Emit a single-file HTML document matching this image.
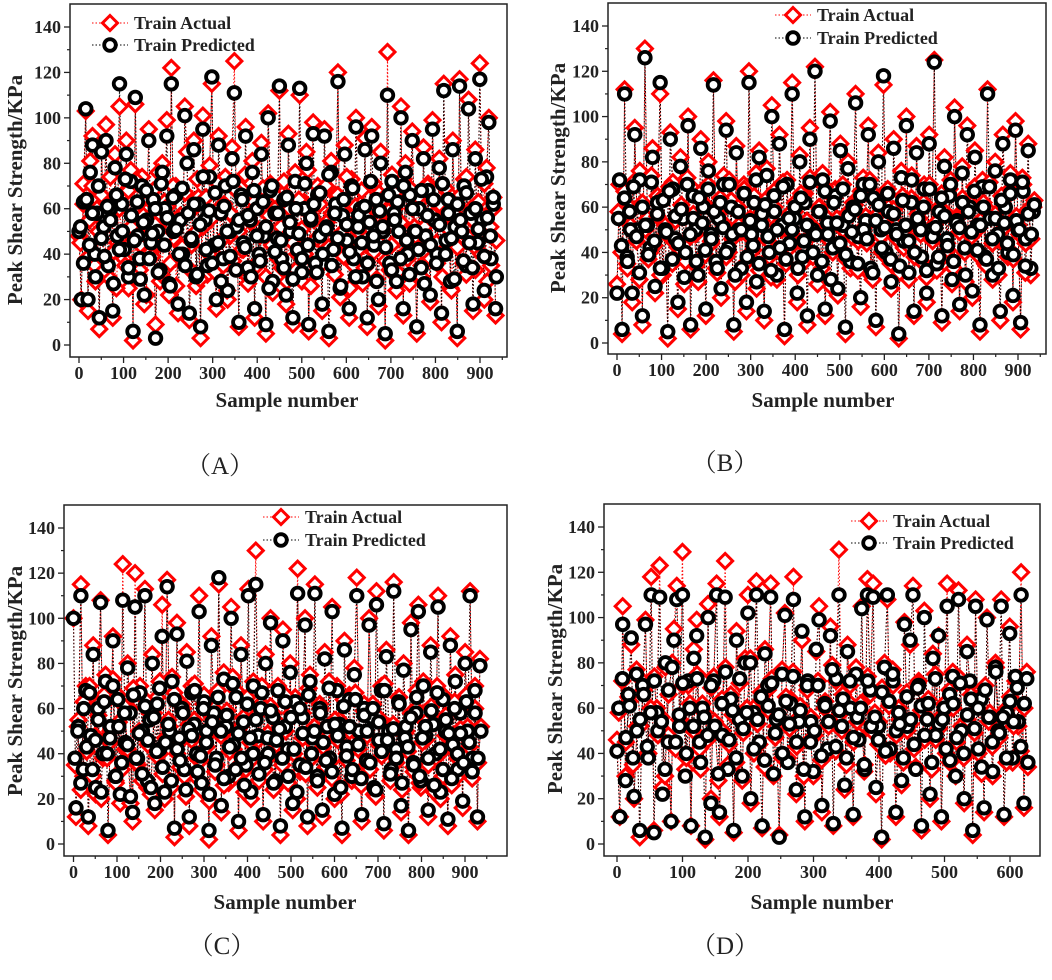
<!DOCTYPE html>
<html><head><meta charset="utf-8"><style>
body{margin:0;background:#fff;width:1052px;height:980px;overflow:hidden}
svg{display:block}
text{font-family:"Liberation Serif","Noto Serif CJK SC",serif}
</style></head><body>
<svg id="chart" width="1052" height="980" viewBox="0 0 1052 980" xmlns="http://www.w3.org/2000/svg"></svg>
<script>
const NS="http://www.w3.org/2000/svg";
const svg=document.getElementById('chart');
// ---- data ----
const sampleCountA=940, sampleCountB=940, sampleCountC=940, sampleCountD=630;
const xTicksLong=[0,100,200,300,400,500,600,700,800,900];
const xTicksShort=[0,100,200,300,400,500,600];
const yTicks=[0,20,40,60,80,100,120,140];
const actualA=[48,20,71,103,15,81,92,35,60,7,88,55,97,30,62,12,84,45,105,66,38,90,25,77,2,106,50,33,74,18,59,95,41,68,9,52,28,80,63,99,22,122,47,70,14,57,36,105,85,11,44,90,26,65,3,101,53,31,79,115,40,16,92,61,35,74,20,48,87,125,55,8,69,42,96,30,58,81,12,64,37,89,50,5,102,71,23,60,45,112,34,67,18,93,52,9,76,40,110,28,63,85,6,57,98,32,70,46,15,95,54,3,81,39,66,120,21,59,88,44,12,73,35,100,50,62,27,91,8,56,96,41,68,17,85,53,2,129,33,75,60,24,47,105,13,80,38,69,94,52,5,63,30,87,46,71,19,99,58,36,82,10,115,44,67,25,90,55,3,117,48,73,31,108,60,15,86,42,124,57,20,78,100,35,65,13];
const actualA2=[45,62,38,55,70,28,50,66,33,58,74,41,25,60,48,35,68,52,30,72,44,57,22,64,39,53,76,31,47,61,36,70,26,55,43,67,34,59,49,73,29,52,65,40,56,32,71,46,62,24,58,37,68,50,42,75,27,54,63,35,48,69,30,57,44,66,38,52,72,28,60,45,33,64,51,40,77,26,55,47,62,36,70,43,58,31,66,49,39,74,25,53,61,42,68,34,56,46,71,29,63,50,37,59,44,67,32,54,73,41,27,60,48,65,35,52,70,38,57,45,62,30,69,51,24,58,43,66,36,74,47,55,33,63,40,71,28,52,60,46];
const predA=[50,20,63,104,20,76,88,40,58,12,85,52,90,35,60,15,78,48,115,62,42,84,30,72,6,109,48,38,70,22,55,90,45,64,3,50,33,76,60,92,27,115,50,66,18,55,40,101,80,14,46,86,30,62,8,95,55,35,74,118,44,20,88,58,38,70,24,50,82,111,52,10,66,45,92,34,55,76,16,60,40,84,48,9,100,68,28,58,47,114,38,64,22,88,50,12,72,42,113,32,60,80,9,55,93,36,66,48,18,92,52,6,76,42,62,116,25,57,84,46,16,70,38,96,52,60,30,86,12,54,92,44,64,20,80,50,5,110,36,72,58,28,50,100,16,76,40,66,90,50,8,60,34,82,48,68,22,95,55,40,78,14,112,46,64,28,86,52,6,114,50,70,35,104,58,18,82,45,117,55,24,74,98,38,62,16];
const predA2=[52,36,64,44,58,30,70,47,39,61,55,27,66,42,50,73,34,57,46,63,29,54,68,38,49,60,32,71,44,56,26,65,51,40,69,35,58,47,62,31,53,74,42,59,36,67,45,28,61,50,39,72,33,55,64,43,57,30,68,48,37,63,52,25,70,41,58,46,34,65,54,29,60,49,38,71,44,56,62,32,67,40,51,75,35,58,47,26,64,53,41,69,30,57,45,61,36,72,48,28,59,52,43,66,33,55,63,38,70,46,31,60,50,42,68,27,57,44,64,36,53,71,40,58,47,29,62,55,37,67,45,34,60,51,73,39,56,48,65,30];
const actualB=[26,70,4,112,35,60,18,95,48,76,8,130,55,40,86,22,65,110,30,52,2,93,71,44,15,82,58,36,100,6,68,48,27,90,62,12,80,45,116,33,57,20,74,98,40,63,5,87,52,30,70,14,120,46,65,24,85,54,10,77,38,105,60,28,92,50,3,72,42,115,58,18,83,35,66,8,95,48,122,26,60,75,12,55,102,40,68,21,88,50,4,80,33,62,110,45,16,73,56,96,30,66,7,84,47,114,38,60,24,90,52,2,76,42,100,28,64,12,87,55,36,70,18,92,48,125,32,60,9,82,44,68,26,104,56,14,78,40,96,62,20,85,50,5,72,35,112,58,28,80,46,10,92,64,38,75,18,98,52,6,70,44,88,30,60];
const actualB2=[58,40,67,33,52,71,45,28,62,50,37,74,43,56,30,65,48,69,35,54,42,61,26,73,47,57,34,66,51,39,70,44,59,31,64,53,38,72,46,27,60,49,68,36,55,41,75,32,58,63,45,29,67,52,40,71,35,57,48,62,30,66,43,54,73,38,50,60,33,69,46,25,64,55,42,70,37,58,47,61,32,67,51,44,72,28,56,63,40,53,68,35,59,46,31,65,50,43,74,38,57,48,62,29,70,45,53,36,66,58,41,72,33,55,49,64,27,60,47,69,39,54,62,34,71,44,57,30,65,51,42,68,37,56,48,73,31,59,46,63];
const predB=[22,72,6,110,38,58,22,92,50,72,12,126,52,42,82,25,62,115,33,50,5,90,68,46,18,78,55,40,96,8,65,50,30,86,60,15,76,48,114,36,55,24,70,94,42,60,8,84,50,33,66,18,115,48,62,27,82,52,14,74,40,100,58,30,88,52,6,70,44,110,55,22,80,38,62,12,90,50,120,30,58,72,15,53,98,42,65,24,85,52,7,77,36,60,106,47,20,70,54,92,33,64,10,80,50,118,40,58,27,86,50,4,73,45,96,31,62,14,84,52,38,68,22,88,50,124,35,58,12,78,46,65,28,100,54,17,75,42,92,60,23,82,52,8,69,38,110,55,30,76,48,14,88,60,40,72,21,94,50,9,67,46,85,33,58];
const predB2=[55,43,64,36,50,69,47,31,60,52,39,71,45,57,33,63,49,67,37,56,44,59,29,70,48,55,36,64,53,41,68,46,58,33,62,51,40,70,48,30,58,50,66,38,54,43,72,35,57,61,47,32,65,50,42,69,37,55,50,60,33,64,45,52,71,40,48,58,36,67,48,28,62,53,44,68,39,56,49,59,35,65,50,46,70,31,54,61,42,51,66,37,57,48,34,63,52,45,72,40,55,50,60,32,68,47,51,38,64,56,43,70,36,53,51,62,30,58,49,67,41,52,60,37,69,46,55,33,63,53,44,66,39,54,50,71,34,57,48,61];
const actualC=[100,12,55,115,30,70,8,45,88,22,62,108,38,75,4,50,92,28,66,18,124,42,80,60,10,120,35,70,48,113,25,58,84,15,65,40,106,20,117,52,74,3,98,45,62,30,85,8,70,55,38,110,24,66,48,2,92,60,35,115,14,76,50,27,105,42,68,6,88,56,33,113,20,72,130,46,62,10,84,38,100,58,25,70,4,95,50,40,80,15,65,122,32,58,100,8,75,45,115,28,62,12,85,50,36,105,20,70,55,4,90,40,66,28,78,118,48,10,62,35,100,58,22,112,44,70,6,86,52,30,116,40,65,14,80,50,4,98,34,60,106,25,72,46,12,88,55,38,110,20,66,48,8,92,42,75,30,60,16,85,52,112,36,70,10,82];
const actualC2=[35,52,24,63,41,70,30,48,57,20,66,38,45,73,27,54,33,61,42,18,69,36,50,28,64,44,22,58,39,72,31,47,55,25,67,40,34,60,21,53,46,71,29,37,62,43,19,56,32,68,48,26,59,41,74,30,51,36,23,65,45,38,57,28,70,33,49,61,24,44,53,35,66,27,58,40,20,63,47,31,69,38,52,25,60,43,34,72,29,55,46,22,64,37,50,30,67,42,26,59,48,33,62,21,56,39,71,44,28,53,36,65,24,49,41,58,32,68,27,45,54,35,61,23,70,40,30,57,47,26,63,38,51,33,66,43,29,60,36,52];
const predC=[100,16,52,110,33,68,12,48,84,25,60,107,40,72,6,52,90,30,64,22,108,45,78,58,14,105,38,67,50,110,28,55,80,18,62,42,92,23,114,50,72,7,93,47,60,33,81,12,67,53,40,103,27,63,50,6,88,58,38,118,17,73,52,30,100,44,65,10,84,54,35,110,23,70,115,48,60,13,80,40,98,56,28,68,8,90,52,42,76,18,63,111,35,56,97,12,72,47,111,30,60,15,82,52,38,103,22,68,53,7,86,43,64,30,75,110,50,13,60,37,97,56,25,106,46,68,9,83,50,33,112,42,63,17,77,52,6,95,36,58,103,28,70,48,15,85,53,40,105,23,64,50,11,88,44,72,33,58,19,80,50,110,38,68,12,79];
const predC2=[38,50,27,60,43,67,33,46,55,23,63,40,47,70,30,52,36,58,44,21,66,38,49,31,61,46,25,56,41,69,34,45,53,28,64,42,37,58,24,51,48,68,32,39,60,45,22,54,35,65,50,29,57,43,71,33,49,38,26,62,47,40,55,31,67,36,47,59,27,46,51,38,63,30,56,42,23,60,49,34,66,40,50,28,58,45,37,69,32,53,48,25,61,39,52,33,64,44,29,57,50,36,60,24,54,41,68,46,31,51,38,62,27,47,43,56,35,65,30,47,52,38,59,26,67,42,33,55,49,29,60,40,49,36,63,45,32,58,38,50];
const actualD=[46,12,105,30,65,88,20,52,3,72,99,40,118,6,60,123,25,78,48,10,95,114,55,129,33,70,8,86,99,42,62,2,106,20,74,115,12,50,125,35,66,5,94,57,28,82,110,18,60,116,44,7,86,68,115,30,52,4,77,102,38,64,118,22,56,90,10,70,46,30,85,105,14,60,40,96,8,72,130,50,24,88,62,12,78,48,105,35,117,66,115,22,54,2,80,108,40,70,12,60,26,98,50,88,114,34,72,6,103,56,20,84,46,92,10,62,115,36,76,30,112,52,18,88,70,4,108,40,66,14,100,58,30,80,48,108,12,60,96,36,72,52,120,16,76];
const actualD2=[58,72,45,63,35,77,52,68,40,60,74,48,56,30,66,80,42,55,70,38,62,50,75,33,58,46,69,54,28,64,78,44,57,36,71,49,60,82,40,53,67,34,59,73,47,55,38,65,51,76,43,61,30,68,56,48,72,37,63,52,79,41,57,66,35,70,45,54,62,32,74,50,58,44,69,39,61,77,48,55,36,67,53,42,71,59,46,64,33,75,51,57,40,68,60,45,73,38,55,66,49,62,31,70,54,43,78,47,58,36,65,52,71,41,60,34];
const predD=[41,12,97,28,66,91,21,50,6,70,97,38,110,5,58,109,22,80,45,10,90,108,52,110,30,72,8,82,92,45,60,3,100,18,72,110,14,48,109,33,64,6,90,55,30,80,102,20,58,110,45,8,84,70,109,31,55,3,75,101,36,62,108,24,54,94,12,72,45,32,86,99,17,62,42,92,9,73,110,52,26,85,60,13,75,46,104,33,110,68,109,25,52,3,78,110,42,72,14,58,28,97,52,90,110,33,70,8,100,55,22,82,48,92,12,60,105,37,74,30,108,50,20,85,72,6,105,42,64,16,99,56,32,78,50,105,13,58,93,38,74,54,110,18,73];
const predD2=[60,73,47,61,38,75,55,66,43,58,72,50,54,33,68,78,45,57,71,40,60,52,73,36,56,48,70,52,31,62,76,46,59,38,73,51,58,80,42,55,65,37,61,71,49,57,40,63,53,74,45,59,33,70,54,50,70,39,61,54,77,43,59,64,38,72,47,56,60,35,72,52,56,46,67,41,63,75,50,53,38,65,55,44,69,61,48,62,36,73,53,55,42,66,62,47,71,40,57,64,51,60,34,68,56,45,76,49,56,38,63,54,69,43,62,36];

function el(tag,attrs,parent){const e=document.createElementNS(NS,tag);for(const k in attrs)e.setAttribute(k,attrs[k]);(parent||svg).appendChild(e);return e;}

const panels=[
 {id:'a',cap:'（A）',capX:220,capY:474,fr:{l:70,r:507,t:4,b:357},xa:[0,79,900,480],ya:[0,345,140,27],xt:xTicksLong,act:[actualA,actualA2],pred:[predA,predA2],n:sampleCountA,yt:[15,190],xtl:[287,411],leg:[110,23,45]},
 {id:'b',cap:'（B）',capX:725,capY:471,fr:{l:608,r:1046,t:3,b:354},xa:[0,617,900,1018],ya:[0,343,140,26],xt:xTicksLong,act:[actualB,actualB2],pred:[predB,predB2],n:sampleCountB,yt:[558,178],xtl:[823,411],leg:[793,15,38]},
 {id:'c',cap:'（C）',capX:222,capY:954,fr:{l:64,r:507,t:505,b:856},xa:[0,73.5,900,465],ya:[0,844,140,528],xt:xTicksLong,act:[actualC,actualC2],pred:[predC,predC2],n:sampleCountC,yt:[15,681],xtl:[285,913],leg:[281,517,540]},
 {id:'d',cap:'（D）',capX:725,capY:954,fr:{l:604,r:1040,t:504,b:856},xa:[0,617,600,1010],ya:[0,844,140,527],xt:xTicksShort,act:[actualD,actualD2],pred:[predD,predD2],n:sampleCountD,yt:[555,679],xtl:[822,913],leg:[869,521,543]}
];

function diamond(g,x,y,name){const s=7.5;const p=el('polygon',{points:`${x},${y-s} ${x+s},${y} ${x},${y+s} ${x-s},${y}`,fill:'#fff',stroke:'#f00','stroke-width':3},g);

return p;}
function circle(g,x,y,name){const c=el('circle',{cx:x,cy:y,r:5.8,fill:'#fff',stroke:'#000','stroke-width':3.8},g);

return c;}

panels.forEach(P=>{
 const g=el('g',{});
 
 
 const X=v=>P.xa[1]+(v-P.xa[0])*(P.xa[3]-P.xa[1])/(P.xa[2]-P.xa[0]);
 const Y=v=>P.ya[1]+(v-P.ya[0])*(P.ya[3]-P.ya[1])/(P.ya[2]-P.ya[0]);
 const f=P.fr;
 const clip=el('clipPath',{id:'clip'+P.id},g);el('rect',{x:f.l,y:f.t,width:f.r-f.l,height:f.b-f.t},clip);
 const plot=el('g',{'clip-path':`url(#clip${P.id})`},g);
 const pos=(arr,i,off)=>X((i+off)*P.n/(arr.length));
 P.act.forEach((arr,k)=>{
  const la=el('polyline',{points:arr.map((v,i)=>pos(arr,i,k*0.5)+','+Y(v)).join(' '),fill:'none',stroke:'#f00','stroke-width':1,'stroke-dasharray':'1.5,2'},plot);
  
  
 });
 P.pred.forEach((arr,k)=>{
  const lp=el('polyline',{points:arr.map((v,i)=>pos(arr,i,k*0.5)+','+Y(v)).join(' '),fill:'none',stroke:'#000','stroke-width':1,'stroke-dasharray':'1.5,2'},plot);
  
  
 });
 P.act.forEach((arr,k)=>arr.forEach((v,i)=>diamond(plot,pos(arr,i,k*0.5),Y(v),'actual-point')));
 P.pred.forEach((arr,k)=>arr.forEach((v,i)=>circle(plot,pos(arr,i,k*0.5),Y(v),'predicted-point')));
 const fr=el('rect',{x:f.l,y:f.t,width:f.r-f.l,height:f.b-f.t,fill:'none',stroke:'#222','stroke-width':1.5},g);
 
 
 yTicks.forEach((t,k)=>{const y=Y(t);el('line',{x1:f.l-6,x2:f.l,y1:y,y2:y,stroke:'#222','stroke-width':1.3},g);
  const tx=el('text',{x:f.l-9,y:y+6,'text-anchor':'end','font-size':18,'font-weight':'bold',fill:'#222'},g);tx.textContent=t;
  
  
  if(k<yTicks.length-1){const m=Y(t+10);el('line',{x1:f.l-3,x2:f.l,y1:m,y2:m,stroke:'#222','stroke-width':1.2},g);}
 });
 P.xt.forEach(t=>{const x=X(t);el('line',{x1:x,x2:x,y1:f.b,y2:f.b+6,stroke:'#222','stroke-width':1.3},g);
  const m=X(t+50);if(m<f.r)el('line',{x1:m,x2:m,y1:f.b,y2:f.b+3,stroke:'#222','stroke-width':1.2},g);
  const tx=el('text',{x:x,y:f.b+22,'text-anchor':'middle','font-size':18,'font-weight':'bold',fill:'#222'},g);tx.textContent=t;
  
  
 });
 const yt=el('text',{x:P.yt[0],y:P.yt[1],transform:`rotate(-90 ${P.yt[0]} ${P.yt[1]})`,'text-anchor':'middle','dominant-baseline':'central','font-size':21,'font-weight':'bold',fill:'#222'},g);
 yt.textContent='Peak Shear Strength/KPa';
 
 
 const xt=el('text',{x:P.xtl[0],y:P.xtl[1]-4,'text-anchor':'middle','font-size':21,'font-weight':'bold',fill:'#222'},g);
 xt.textContent='Sample number';
 
 
 const cap=el('text',{x:P.capX,y:P.capY,'text-anchor':'middle','font-size':25,fill:'#222'},g);
 cap.textContent=P.cap;
 
 
 const lg=el('g',{},g);
 
 
 const [lx,ly1,ly2]=P.leg;
 el('line',{x1:lx-18,x2:lx+18,y1:ly1,y2:ly1,stroke:'#f00','stroke-width':1,'stroke-dasharray':'1.5,2'},lg);
 diamond(lg,lx,ly1,'legend-actual-marker');
 el('line',{x1:lx-18,x2:lx+18,y1:ly2,y2:ly2,stroke:'#000','stroke-width':1,'stroke-dasharray':'1.5,2'},lg);
 circle(lg,lx,ly2,'legend-predicted-marker');
 const t1=el('text',{x:lx+24,y:ly1+6,'font-size':18,'font-weight':'bold',fill:'#222'},lg);t1.textContent='Train Actual';
 
 
 const t2=el('text',{x:lx+24,y:ly2+6,'font-size':18,'font-weight':'bold',fill:'#222'},lg);t2.textContent='Train Predicted';
 
 
});
</script>
</body></html>
